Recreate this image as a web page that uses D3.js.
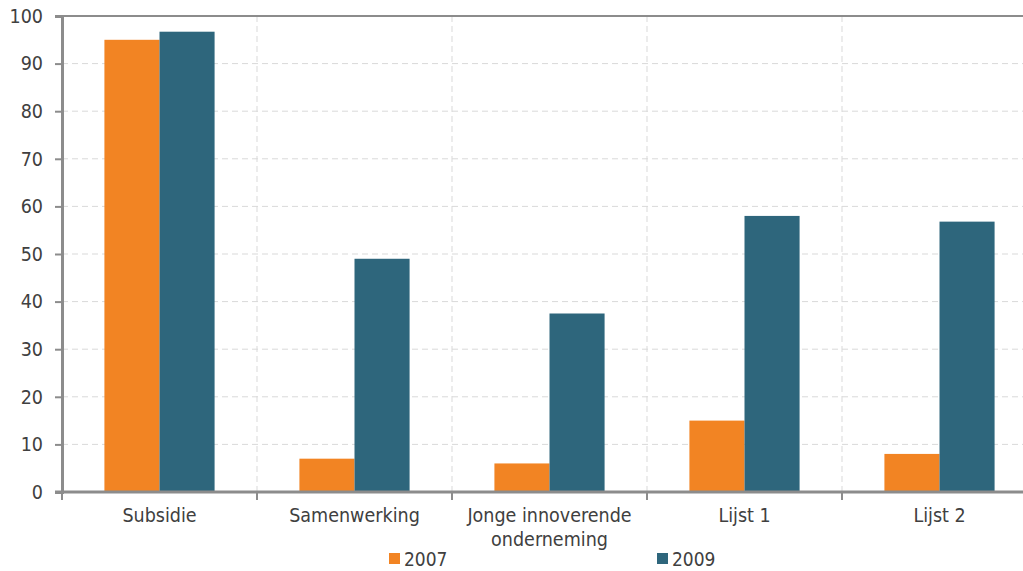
<!DOCTYPE html>
<html>
<head>
<meta charset="utf-8">
<script src="https://cdn.jsdelivr.net/npm/d3@7"></script>
<style>
  body { margin: 0; background: #fff; }
  svg text { font-family: "DejaVu Sans Condensed", "DejaVu Sans", sans-serif; fill: #404040; }
</style>
</head>
<body>
<svg width="1023" height="571"></svg>
<script>
var categories = ["Subsidie", "Samenwerking", "Jonge innoverende\nonderneming", "Lijst 1", "Lijst 2"];
var series = ["2007", "2009"];
var values2007 = [95, 7, 6, 15, 8];
var values2009 = [96.7, 49, 37.5, 58, 56.8];
var yTicks = [0, 10, 20, 30, 40, 50, 60, 70, 80, 90, 100];
var colors = ["#f28423", "#2e667c"];

var width = 1023, height = 571;
var plotLeft = 62, plotRight = 1037, plotTop = 16, plotBottom = 492;
var fontFam = "'DejaVu Sans Condensed', 'DejaVu Sans', sans-serif";

var svg = d3.select("svg");

var x = d3.scaleBand()
    .domain(categories)
    .range([plotLeft, plotRight]);

var x1 = d3.scaleBand()
    .domain(series)
    .range([0, x.bandwidth()])
    .paddingOuter(0.77)
    .paddingInner(0);

var y = d3.scaleLinear()
    .domain([0, 100])
    .range([plotBottom, plotTop]);

// horizontal grid
svg.append("g").selectAll("line")
    .data(yTicks.filter(d => d > 0 && d < 100))
    .enter().append("line")
    .attr("x1", plotLeft).attr("x2", width)
    .attr("y1", d => y(d)).attr("y2", d => y(d))
    .style("stroke", "#d9d9d9")
    .style("stroke-dasharray", "6,4");

// vertical grid at group boundaries
svg.append("g").selectAll("line")
    .data(categories.slice(1))
    .enter().append("line")
    .attr("x1", d => x(d)).attr("x2", d => x(d))
    .attr("y1", plotTop).attr("y2", plotBottom)
    .style("stroke", "#d9d9d9")
    .style("stroke-dasharray", "6,4");

// bars
var rows = categories.map((c, i) => ({cat: c, vals: [values2007[i], values2009[i]]}));
var groups = svg.append("g").selectAll("g")
    .data(rows)
    .enter().append("g")
    .attr("transform", d => `translate(${x(d.cat)},0)`);

groups.selectAll("rect")
    .data(d => d.vals.map((v, j) => ({key: series[j], v: v, j: j})))
    .enter().append("rect")
    .attr("x", d => x1(d.key))
    .attr("width", x1.bandwidth())
    .attr("y", d => y(d.v))
    .attr("height", d => plotBottom - y(d.v))
    .style("fill", d => colors[d.j]);

// top border
svg.append("line")
    .attr("x1", plotLeft - 7).attr("x2", width)
    .attr("y1", plotTop).attr("y2", plotTop)
    .style("stroke", "#8c8c8c").style("stroke-width", 2);

// y axis
var yAxis = svg.append("g")
    .attr("transform", `translate(${plotLeft},0)`)
    .call(d3.axisLeft(y).tickValues(yTicks).tickSize(7).tickPadding(12));
yAxis.select(".domain").style("stroke", "#8c8c8c").style("stroke-width", 3);
yAxis.selectAll(".tick line").style("stroke", "#8c8c8c").style("stroke-width", 2);
yAxis.selectAll(".tick text")
    .style("font-size", "19.5px")
    .style("font-family", fontFam)
    .style("fill", "#404040");

// x axis
var xAxis = svg.append("g")
    .attr("transform", `translate(0,${plotBottom})`);
xAxis.append("line")
    .attr("x1", plotLeft - 7).attr("x2", width)
    .style("stroke", "#8c8c8c").style("stroke-width", 3);
xAxis.selectAll(".xt")
    .data(categories)
    .enter().append("line")
    .attr("x1", d => x(d)).attr("x2", d => x(d))
    .attr("y1", 0).attr("y2", 8)
    .style("stroke", "#8c8c8c").style("stroke-width", 2);

var labels = xAxis.selectAll(".xl")
    .data(categories)
    .enter().append("text")
    .attr("text-anchor", "middle")
    .attr("transform", d => `translate(${x(d) + x.bandwidth() / 2},30)`)
    .style("font-size", "19.5px");
labels.each(function(d) {
    var parts = d.split("\n");
    var t = d3.select(this);
    parts.forEach((p, i) => {
        t.append("tspan").attr("x", 0).attr("y", i * 24).text(p);
    });
});

// legend
var legendX = [389, 657];
var legend = svg.append("g").selectAll("g")
    .data(series)
    .enter().append("g")
    .attr("transform", (d, i) => `translate(${legendX[i]},553)`);
legend.append("rect")
    .attr("width", 11).attr("height", 11)
    .style("fill", (d, i) => colors[i]);
legend.append("text")
    .attr("x", 15).attr("y", 12.5)
    .style("font-size", "19px")
    .text(d => d);
</script>
</body>
</html>
